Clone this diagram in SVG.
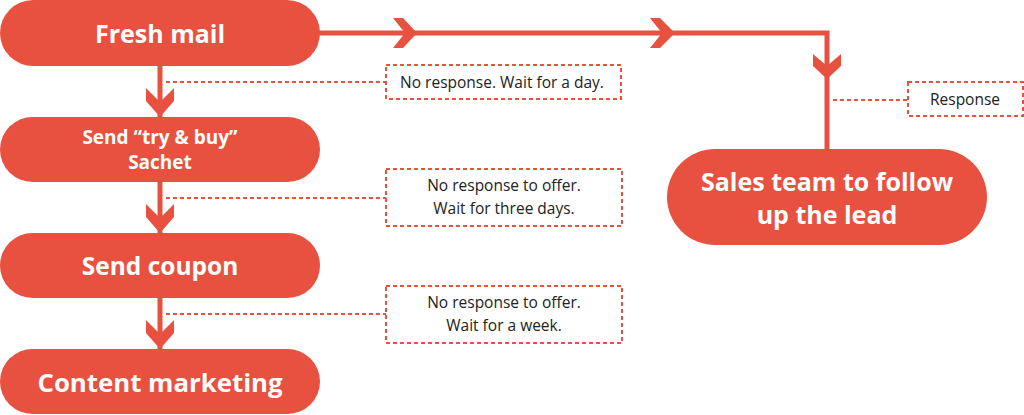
<svg xmlns="http://www.w3.org/2000/svg" width="1024" height="415" viewBox="0 0 1024 415">
<style>
.node{fill:#E8513F}
.nt{fill:#fff;font-family:"Open Sans",sans-serif;font-weight:700;text-anchor:middle}
.line{stroke:#E8513F;stroke-width:5;fill:none}
.dash{stroke:#E8513F;stroke-width:2;fill:none;stroke-dasharray:4 3}
.box{fill:#fff;stroke:#E8513F;stroke-width:2;stroke-dasharray:4 3}
.bt{fill:#222;font-family:"Open Sans",sans-serif;font-size:15.5px;text-anchor:middle}
.chev{fill:#E8513F}
</style>
<rect width="1024" height="415" fill="#fff"/>
<g id="connectors">
<line class="line" x1="160" y1="60" x2="160" y2="350"/>
<polyline class="line" points="318,33 827,33 827,152"/>
<polygon class="chev" points="146,88 160,102 174,88 174,101 160,117 146,101"/>
<polygon class="chev" points="146,204 160,218 174,204 174,217 160,233 146,217"/>
<polygon class="chev" points="146,320 160,334 174,320 174,333 160,349 146,333"/>
<polygon class="chev" points="393,18 403,18 417,33 403,48 393,48 405,33"/>
<polygon class="chev" points="650,18 660,18 675,33 660,48 650,48 662,33"/>
<polygon class="chev" points="813,54 827,66 841,54 841,66 827,79 813,66"/>
<line class="dash" x1="166" y1="82" x2="386" y2="82"/>
<line class="dash" x1="166" y1="198" x2="386" y2="198"/>
<line class="dash" x1="166" y1="314" x2="386" y2="314"/>
<line class="dash" x1="833" y1="100" x2="908" y2="100"/>
</g>
<g id="fresh-mail">
<rect class="node" x="0" y="0" width="320" height="66" rx="33"/>
<text class="nt" x="160" y="43" font-size="25">Fresh mail</text>
</g>
<g id="send-sachet">
<rect class="node" x="0" y="117" width="320" height="65" rx="32.5"/>
<text class="nt" x="160" y="144" font-size="19"><tspan x="160" y="144">Send “try &amp; buy”</tspan><tspan x="160" y="169">Sachet</tspan></text>
</g>
<g id="send-coupon">
<rect class="node" x="0" y="233" width="320" height="65" rx="32.5"/>
<text class="nt" x="160" y="275" font-size="24.5">Send coupon</text>
</g>
<g id="content-marketing">
<rect class="node" x="0" y="349" width="320" height="65" rx="32.5"/>
<text class="nt" x="160" y="392" font-size="25.8">Content marketing</text>
</g>
<g id="sales-team">
<rect class="node" x="667" y="149" width="320" height="96" rx="48"/>
<text class="nt" x="827" y="191" font-size="25"><tspan x="827" y="191">Sales team to follow</tspan><tspan x="827" y="224">up the lead</tspan></text>
</g>
<g id="note-day">
<rect class="box" x="386" y="65" width="235" height="34"/>
<text class="bt" x="502" y="88">No response. Wait for a day.</text>
</g>
<g id="note-three-days">
<rect class="box" x="386" y="169" width="236" height="57"/>
<text class="bt" x="504" y="191"><tspan x="504" y="191">No response to offer.</tspan><tspan x="504" y="214">Wait for three days.</tspan></text>
</g>
<g id="note-week">
<rect class="box" x="386" y="286" width="236" height="57"/>
<text class="bt" x="504" y="308"><tspan x="504" y="308">No response to offer.</tspan><tspan x="504" y="331">Wait for a week.</tspan></text>
</g>
<g id="note-response">
<rect class="box" x="908" y="82" width="115" height="34"/>
<text class="bt" x="965" y="105">Response</text>
</g>
</svg>
